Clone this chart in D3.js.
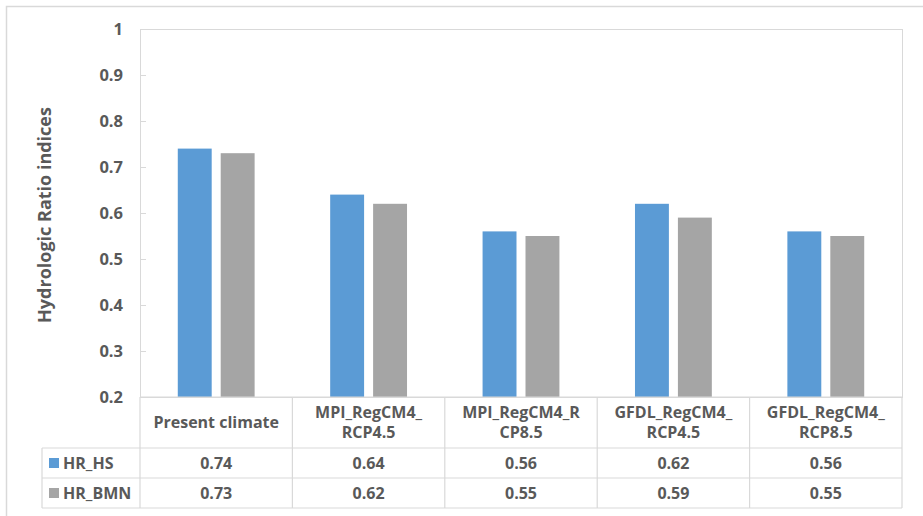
<!DOCTYPE html>
<html><head><meta charset="utf-8">
<script src="https://cdn.jsdelivr.net/npm/d3@7"></script>
<style>body{margin:0;background:#fff;} text{font-family:"Open Sans",sans-serif;font-weight:bold;fill:#595959;}</style>
</head><body><svg id="c" width="923" height="516"></svg>
<script>
const categories = [["Present climate"],["MPI_RegCM4_","RCP4.5"],["MPI_RegCM4_R","CP8.5"],["GFDL_RegCM4_","RCP4.5"],["GFDL_RegCM4_","RCP8.5"]];
const seriesNames = ["HR_HS","HR_BMN"];
const hrHS = [0.74,0.64,0.56,0.62,0.56];
const hrBMN = [0.73,0.62,0.55,0.59,0.55];
const yTicks = [0.2,0.3,0.4,0.5,0.6,0.7,0.8,0.9,1];
const colors = ["#5b9bd5","#a5a5a5"];

const svg = d3.select("#c");
const L=140,R=902,T=29,B=397;
const rowH=[448,478,508];
const legL=42;
const gridC="#d9d9d9";
const FS=16;
svg.append("rect").attr("x",6.5).attr("y",6.5).attr("width",930).attr("height",530).attr("fill","none").attr("stroke",gridC).attr("stroke-width",1.5);

const x = d3.scaleBand().domain(d3.range(categories.length)).range([L,R]);
const y = d3.scaleLinear().domain([0.2,1]).range([B,T]);
const x1 = d3.scaleBand().domain([0,1]).range([0,x.bandwidth()]).paddingInner(0.21).paddingOuter(0.88);
// plot border
svg.append("rect").attr("x",L+0.5).attr("y",T+0.5).attr("width",R-L).attr("height",B-T).attr("fill","none").attr("stroke",gridC);
// y axis
const ya = svg.append("g").attr("transform",`translate(${L},0)`).call(d3.axisRight(y).tickValues(yTicks).tickSize(6).tickFormat(d3.format("")));
ya.select(".domain").remove();
ya.selectAll("line").attr("stroke",gridC);
ya.selectAll("text").remove();
svg.append("g").selectAll("text").data(yTicks).join("text")
  .attr("x",L-17).attr("y",d=>y(d)).attr("dy","0.35em").attr("text-anchor","end").attr("font-size",FS+0.5).text(d=>d3.format("")(d));
// title
svg.append("text").attr("transform",`translate(45,215) rotate(-90)`).attr("text-anchor","middle").attr("dy","0.35em").attr("font-size",18).text("Hydrologic Ratio indices");
// bars
const series=[hrHS,hrBMN];
series.forEach((vals,si)=>{
  svg.append("g").selectAll("rect").data(vals).join("rect")
   .attr("x",(d,i)=>x(i)+x1(si)).attr("width",x1.bandwidth())
   .attr("y",d=>y(d)).attr("height",d=>B-y(d)).attr("fill",colors[si]);
});
// table lines
const tl = svg.append("g").attr("stroke",gridC).attr("stroke-width",1.2);
tl.append("line").attr("x1",L).attr("x2",R).attr("y1",B).attr("y2",B);
rowH.forEach(yy=>tl.append("line").attr("x1",legL).attr("x2",R).attr("y1",yy).attr("y2",yy));
d3.range(categories.length+1).forEach(i=>{
  const xx = i<categories.length? x(i): R;
  tl.append("line").attr("x1",xx).attr("x2",xx).attr("y1",B).attr("y2",rowH[2]);
});
tl.append("line").attr("x1",legL).attr("x2",legL).attr("y1",rowH[0]).attr("y2",rowH[2]);
// category labels
categories.forEach((lines,i)=>{
  const cx = x(i)+x.bandwidth()/2, cy=(B+rowH[0])/2;
  const t = svg.append("text").attr("x",cx).attr("text-anchor","middle").attr("font-size",FS);
  lines.forEach((ln,k)=>{
    t.append("tspan").attr("x",cx).attr("y",cy+(k-(lines.length-1)/2)*20).attr("dy","0.35em").text(ln);
  });
});
// rows
series.forEach((vals,si)=>{
  const cy=(rowH[si]+rowH[si+1])/2;
  svg.append("rect").attr("x",49).attr("y",cy-5).attr("width",10).attr("height",10).attr("fill",colors[si]);
  svg.append("text").attr("x",63).attr("y",cy).attr("dy","0.35em").attr("font-size",FS).text(seriesNames[si]);
  svg.append("g").selectAll("text").data(vals).join("text")
    .attr("x",(d,i)=>x(i)+x.bandwidth()/2).attr("y",cy).attr("dy","0.35em").attr("text-anchor","middle").attr("font-size",FS)
    .text(d=>d3.format(".2f")(d));
});
</script></body></html>
